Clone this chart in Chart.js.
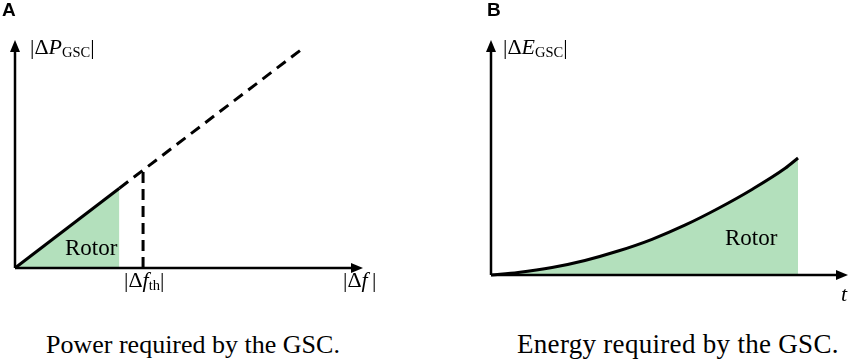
<!DOCTYPE html>
<html>
<head>
<meta charset="utf-8">
<script src="https://cdn.jsdelivr.net/npm/chart.js@4.4.0/dist/chart.umd.min.js"></script>
<style>
  body { margin: 0; background: #fff; }
  #wrap { position: relative; width: 858px; height: 361px; overflow: hidden; }
  canvas { position: absolute; top: 0; }
  .lbl { position: absolute; font-family: 'Liberation Serif', 'DejaVu Serif', serif; line-height: 1; white-space: nowrap; color: #000; }
  .sub { font-size: 0.66em; position: relative; top: 0.22em; }
  .pan { position: absolute; font-family: 'Liberation Sans', Arial, sans-serif; font-weight: bold; font-size: 19px; line-height: 1; }
</style>
</head>
<body>
<div id="wrap">
  <canvas id="chartA" width="430" height="310" style="left:0"></canvas>
  <canvas id="chartB" width="428" height="310" style="left:430px"></canvas>

  <div class="pan" style="left:2px;top:0px">A</div>
  <div class="pan" style="left:487px;top:0px">B</div>

  <div class="lbl" style="left:30px;top:36px;font-size:22px">|Δ<i>P</i><span class="sub">GSC</span>|</div>
  <div class="lbl" style="left:124px;top:269px;font-size:22px">|Δ<i>f</i><span class="sub">th</span>|</div>
  <div class="lbl" style="left:343px;top:269px;font-size:22px">|Δ<i>f</i>&thinsp;|</div>
  <div class="lbl" style="left:65px;top:236px;font-size:23px">Rotor</div>

  <div class="lbl" style="left:503px;top:36px;font-size:22px">|Δ<i>E</i><span class="sub">GSC</span>|</div>
  <div class="lbl" style="left:725px;top:226px;font-size:23px">Rotor</div>
  <div class="lbl" style="left:841px;top:283px;font-size:22px"><i>t</i></div>

  <div class="lbl" style="left:46px;top:332px;font-size:26px">Power required by the GSC.</div>
  <div class="lbl" style="left:517px;top:331px;font-size:27px;letter-spacing:0.3px">Energy required by the GSC.</div>
</div>
<script>
// panel A: power vs frequency deviation (arbitrary units 0..10)
const rotorPowerX = [0, 3.0];
const rotorPowerY = [0, 3.5];
const extraPowerX = [3.0, 8.2];
const extraPowerY = [3.5, 9.55];
const thresholdX = [3.68, 3.68];
const thresholdY = [0, 4.3];

// panel B: energy vs time
const energyT = [0, 0.76, 1.71, 2.63, 3.56, 4.51, 5.43, 6.36, 7.31, 8.24, 8.6];
const energyE = [0, 0.11, 0.32, 0.62, 1.02, 1.52, 2.12, 2.83, 3.64, 4.54, 4.98];

const axisMax = 10;
const green = '#b3e0bc';

function pts(xs, ys) {
    let out = [];
    for (let i = 0; i < xs.length; i++) out.push({x: xs[i], y: ys[i]});
    return out;
}

// arrow heads on the ends of the two axes
const arrowPlugin = {
    id: 'arrows',
    afterDatasetsDraw(chart) {
        const ctx = chart.ctx;
        const xs = chart.scales.x, ys = chart.scales.y;
        const x0 = xs.getPixelForValue(0), y0 = ys.getPixelForValue(0);
        const xe = xs.getPixelForValue(axisMax), ye = ys.getPixelForValue(axisMax);
        ctx.save();
        ctx.fillStyle = '#000';
        ctx.beginPath();
        ctx.moveTo(xe, y0);
        ctx.lineTo(xe - 12, y0 - 5);
        ctx.lineTo(xe - 12, y0 + 5);
        ctx.closePath();
        ctx.fill();
        ctx.beginPath();
        ctx.moveTo(x0, ye);
        ctx.lineTo(x0 - 5, ye + 12);
        ctx.lineTo(x0 + 5, ye + 12);
        ctx.closePath();
        ctx.fill();
        ctx.restore();
    }
};

function axisSets() {
    return [
        {data: pts([0, axisMax - 0.2], [0, 0]), borderColor: '#000', borderWidth: 2.5, pointRadius: 0, clip: false},
        {data: pts([0, 0], [0, axisMax - 0.3]), borderColor: '#000', borderWidth: 2.5, pointRadius: 0, clip: false}
    ];
}

function baseOptions(pad) {
    return {
        responsive: false,
        animation: false,
        layout: {padding: pad},
        plugins: {legend: {display: false}, tooltip: {enabled: false}},
        scales: {
            x: {type: 'linear', min: 0, max: axisMax, display: false},
            y: {type: 'linear', min: 0, max: axisMax, display: false}
        },
        elements: {line: {tension: 0}}
    };
}

new Chart(document.getElementById('chartA'), {
    type: 'line',
    data: {
        datasets: axisSets().concat([
            {data: pts(rotorPowerX, rotorPowerY), borderColor: '#000', borderWidth: 3,
             backgroundColor: green, fill: 'origin', pointRadius: 0, clip: false},
            {data: pts(extraPowerX, extraPowerY), borderColor: '#000', borderWidth: 3,
             borderDash: [11, 7], pointRadius: 0, clip: false},
            {data: pts(thresholdX, thresholdY), borderColor: '#000', borderWidth: 3,
             borderDash: [11, 6], pointRadius: 0, clip: false}
        ])
    },
    options: baseOptions({left: 15, right: 67, top: 40, bottom: 42}),
    plugins: [arrowPlugin]
});

new Chart(document.getElementById('chartB'), {
    type: 'line',
    data: {
        datasets: axisSets().concat([
            {data: pts(energyT, energyE), borderColor: '#000', borderWidth: 3,
             backgroundColor: green, fill: 'origin', pointRadius: 0, clip: false,
             cubicInterpolationMode: 'monotone'}
        ])
    },
    options: baseOptions({left: 61, right: 10, top: 40, bottom: 35}),
    plugins: [arrowPlugin]
});
</script>
</body>
</html>
